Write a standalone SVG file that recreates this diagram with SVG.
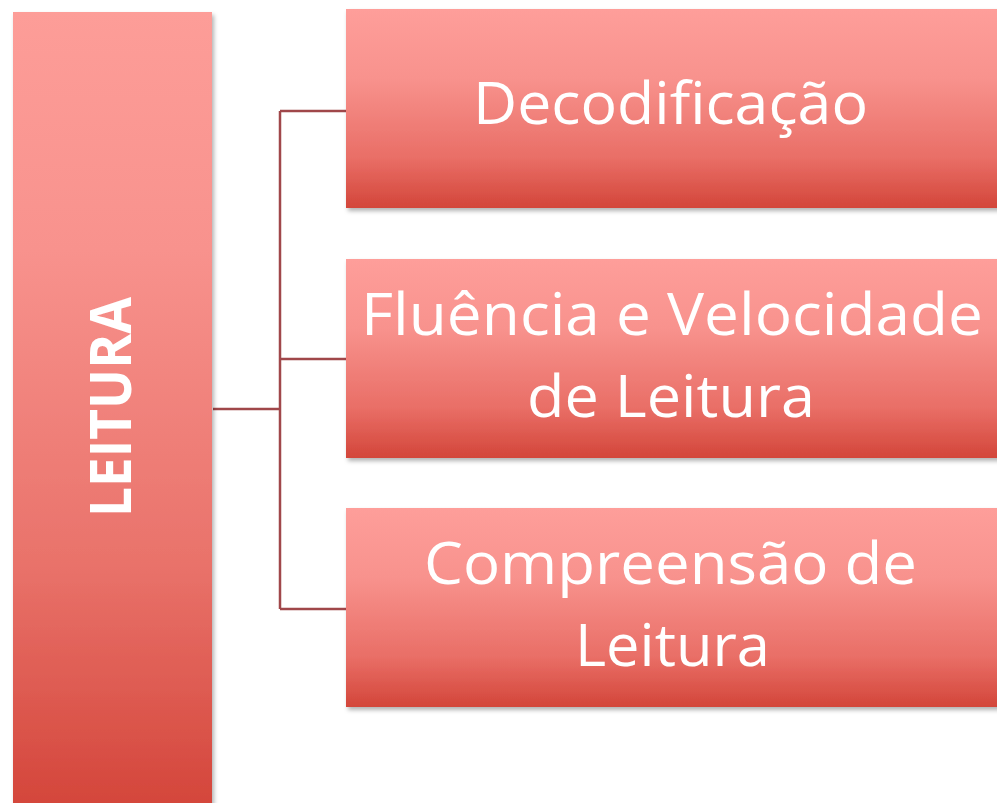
<svg xmlns="http://www.w3.org/2000/svg" width="997" height="803" viewBox="0 0 997 803">
  <defs>
    <linearGradient id="gLeft" gradientUnits="userSpaceOnUse" x1="0" y1="12" x2="0" y2="803">
      <stop offset="0" stop-color="#fd9d98"/>
      <stop offset="0.3" stop-color="#f8928d"/>
      <stop offset="0.7" stop-color="#e9726a"/>
      <stop offset="1" stop-color="#d4463b"/>
    </linearGradient>
    <linearGradient id="gBox" x1="0" y1="0" x2="0" y2="1">
      <stop offset="0" stop-color="#fe9e9a"/>
      <stop offset="0.35" stop-color="#f8928d"/>
      <stop offset="0.75" stop-color="#e96e66"/>
      <stop offset="1" stop-color="#d3463a"/>
    </linearGradient>
    <filter id="sh" x="-10%" y="-10%" width="130%" height="130%">
      <feDropShadow dx="2" dy="3" stdDeviation="2" flood-color="#000" flood-opacity="0.3"/>
    </filter>
  </defs>
  <style>
    .box { filter: url(#sh); }
    .lbl { font-family: "Open Sans", "Liberation Sans", sans-serif; font-size: 58px; fill: #ffffff; text-anchor: middle; }
    .main { font-family: "Open Sans", "Liberation Sans", sans-serif; font-size: 57px; font-weight: bold; fill: #ffffff; text-anchor: middle; }
    .conn { stroke: #a0474a; stroke-width: 2.5; fill: none; }
  </style>
  <rect width="997" height="803" fill="#ffffff"/>
  <g id="connectors">
    <path class="conn" d="M213 409 H280 M280 111 V609 M280 111 H346 M280 359 H346 M280 609 H346"/>
  </g>
  <g id="leitura">
    <rect class="box" x="13" y="12" width="199" height="800" fill="url(#gLeft)"/>
    <text class="main" transform="translate(131,407) rotate(-90)" textLength="220" lengthAdjust="spacingAndGlyphs">LEITURA</text>
  </g>
  <g id="decodificacao">
    <rect class="box" x="346" y="9" width="660" height="199" fill="url(#gBox)"/>
    <text class="lbl" x="670.5" y="124" textLength="395" lengthAdjust="spacingAndGlyphs">Decodificação</text>
  </g>
  <g id="fluencia">
    <rect class="box" x="346" y="259" width="660" height="199" fill="url(#gBox)"/>
    <text class="lbl" x="672" y="335" textLength="622" lengthAdjust="spacingAndGlyphs">Fluência e Velocidade</text>
    <text class="lbl" x="671" y="417" textLength="288" lengthAdjust="spacingAndGlyphs">de Leitura</text>
  </g>
  <g id="compreensao">
    <rect class="box" x="346" y="508" width="660" height="199" fill="url(#gBox)"/>
    <text class="lbl" x="670.5" y="584" textLength="493" lengthAdjust="spacingAndGlyphs">Compreensão de</text>
    <text class="lbl" x="672.5" y="666" textLength="195" lengthAdjust="spacingAndGlyphs">Leitura</text>
  </g>
</svg>
